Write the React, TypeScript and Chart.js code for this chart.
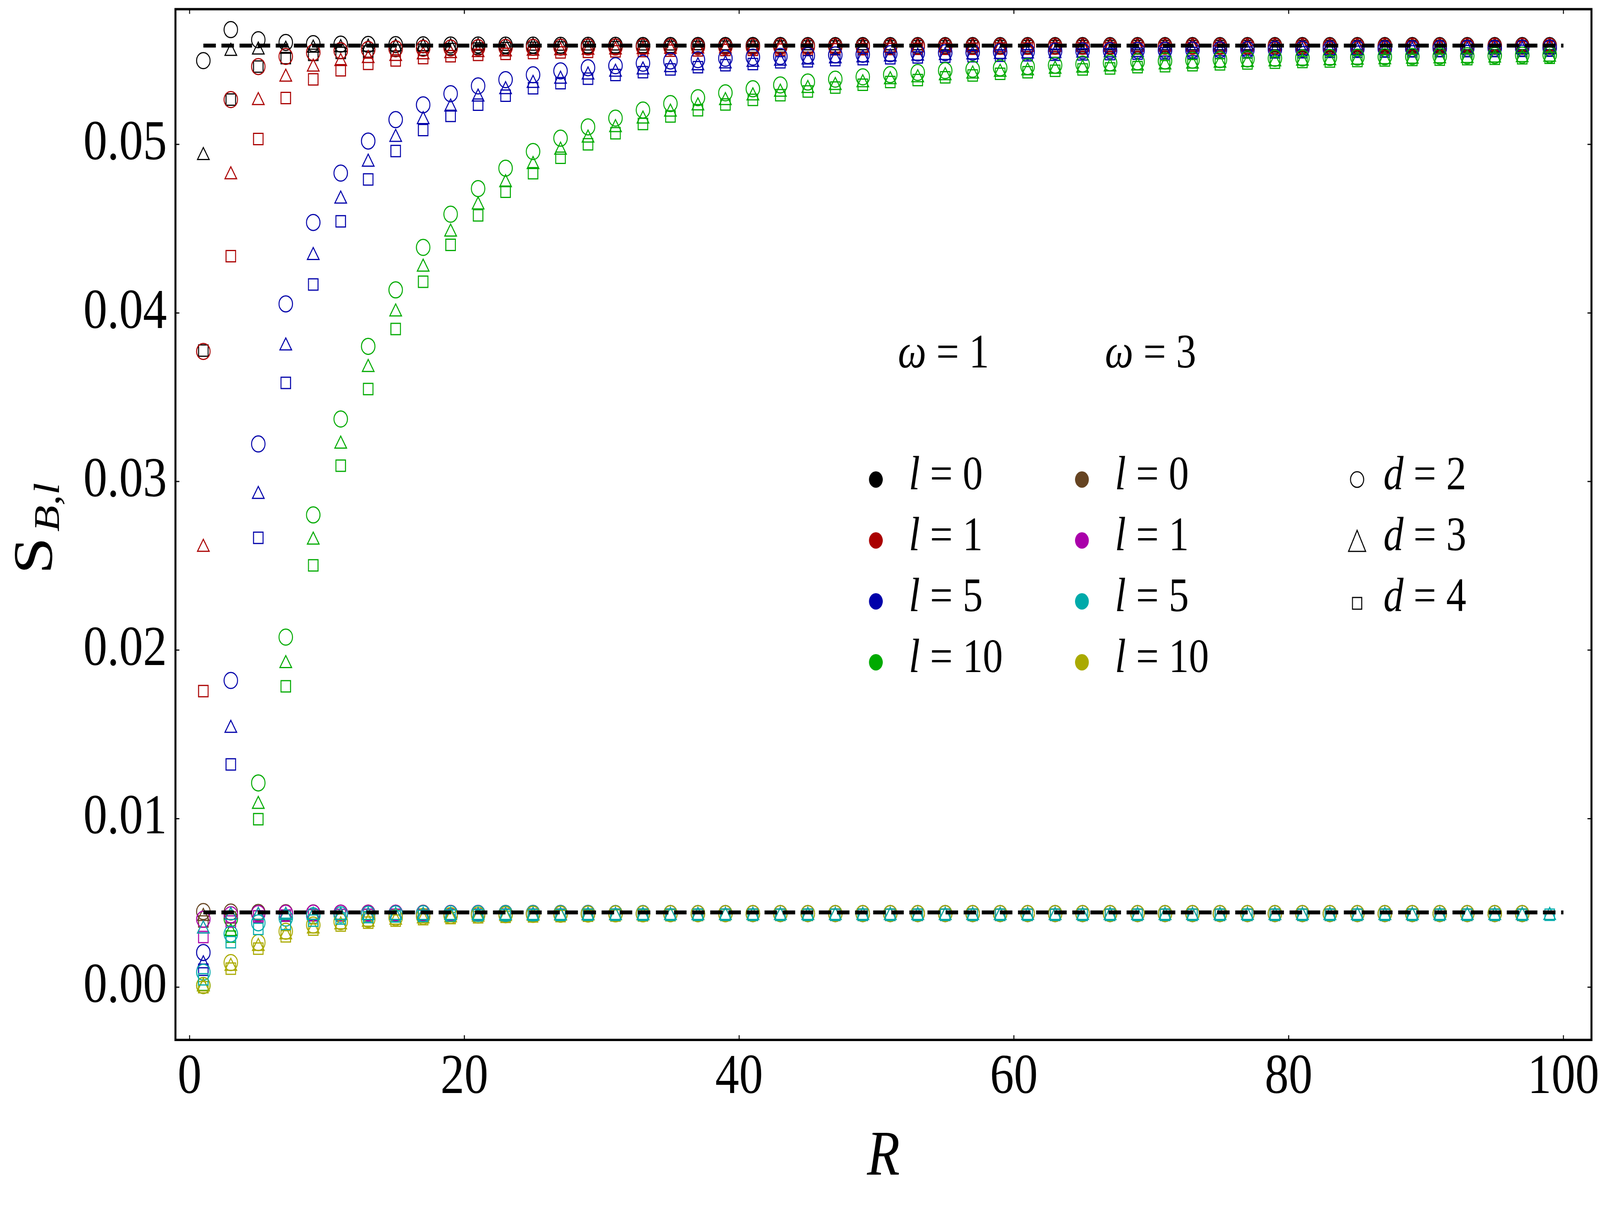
import React, { useEffect, useRef } from 'react';
import { Chart, registerables } from 'chart.js';

Chart.register(...registerables);

const W = 4861;
const H = 3096;
const FONT = "'Liberation Serif', 'Times New Roman', serif";

// ---------- data ----------
const R_VALUES = [
  1, 3, 5, 7, 9, 11, 13, 15, 17, 19,
  21, 23, 25, 27, 29, 31, 33, 35, 37, 39,
  41, 43, 45, 47, 49, 51, 53, 55, 57, 59,
  61, 63, 65, 67, 69, 71, 73, 75, 77, 79,
  81, 83, 85, 87, 89, 91, 93, 95, 97, 99,
];

const X_TICKS = [0, 20, 40, 60, 80, 100];
const Y_TICKS = [0, 0.01, 0.02, 0.03, 0.04, 0.05];

const DASH_R = [1, 100];
const LIMIT_OMEGA1 = 0.05586;
const LIMIT_OMEGA3 = 0.00444;

// omega = 1
const W1_L0_D2 = [
  0.05497, 0.05681, 0.05621, 0.05605, 0.05598, 0.05595, 0.05593, 0.05592, 0.05591, 0.0559,
  0.0559, 0.05589, 0.05589, 0.05588, 0.05588, 0.05588, 0.05587, 0.05587, 0.05587, 0.05587,
  0.05587, 0.05587, 0.05586, 0.05586, 0.05586, 0.05586, 0.05586, 0.05586, 0.05586, 0.05586,
  0.05586, 0.05586, 0.05586, 0.05586, 0.05586, 0.05586, 0.05586, 0.05586, 0.05586, 0.05586,
  0.05586, 0.05586, 0.05586, 0.05586, 0.05586, 0.05586, 0.05586, 0.05586, 0.05586, 0.05586,
];
const W1_L0_D3 = [
  0.04934, 0.05552, 0.0556, 0.05565, 0.05571, 0.05574, 0.05577, 0.05579, 0.0558, 0.05581,
  0.05582, 0.05582, 0.05583, 0.05583, 0.05584, 0.05584, 0.05584, 0.05584, 0.05585, 0.05585,
  0.05585, 0.05585, 0.05585, 0.05585, 0.05585, 0.05585, 0.05585, 0.05585, 0.05585, 0.05585,
  0.05585, 0.05585, 0.05585, 0.05585, 0.05585, 0.05585, 0.05585, 0.05585, 0.05585, 0.05585,
  0.05585, 0.05585, 0.05585, 0.05585, 0.05585, 0.05585, 0.05585, 0.05585, 0.05585, 0.05585,
];
const W1_L0_D4 = [
  0.03777, 0.05266, 0.05462, 0.05512, 0.05531, 0.05543, 0.05551, 0.05557, 0.05562, 0.05566,
  0.05569, 0.05571, 0.05573, 0.05575, 0.05576, 0.05577, 0.05578, 0.05579, 0.05579, 0.0558,
  0.0558, 0.05581, 0.05581, 0.05581, 0.05582, 0.05582, 0.05582, 0.05582, 0.05583, 0.05583,
  0.05583, 0.05583, 0.05583, 0.05583, 0.05583, 0.05583, 0.05583, 0.05583, 0.05583, 0.05583,
  0.05583, 0.05583, 0.05583, 0.05583, 0.05583, 0.05583, 0.05583, 0.05583, 0.05583, 0.05583,
];
const W1_L1_D2 = [
  0.03772, 0.05266, 0.05462, 0.05522, 0.05545, 0.05556, 0.05563, 0.05567, 0.0557, 0.05572,
  0.05574, 0.05575, 0.05576, 0.05577, 0.05578, 0.05578, 0.05579, 0.05579, 0.0558, 0.0558,
  0.0558, 0.05581, 0.05581, 0.05581, 0.05581, 0.05581, 0.05582, 0.05582, 0.05582, 0.05582,
  0.05582, 0.05582, 0.05582, 0.05582, 0.05582, 0.05582, 0.05582, 0.05582, 0.05582, 0.05582,
  0.05582, 0.05582, 0.05582, 0.05582, 0.05582, 0.05582, 0.05582, 0.05582, 0.05582, 0.05582,
];
const W1_L1_D3 = [
  0.0261, 0.0482, 0.0526, 0.05399, 0.05459, 0.05492, 0.0551, 0.05522, 0.05532, 0.05539,
  0.05545, 0.05549, 0.05553, 0.05556, 0.05559, 0.05561, 0.05563, 0.05565, 0.05566, 0.05567,
  0.05568, 0.05569, 0.0557, 0.05571, 0.05572, 0.05572, 0.05573, 0.05573, 0.05574, 0.05574,
  0.05575, 0.05575, 0.05576, 0.05576, 0.05576, 0.05577, 0.05577, 0.05577, 0.05578, 0.05578,
  0.05578, 0.05578, 0.05579, 0.05579, 0.05579, 0.05579, 0.05579, 0.0558, 0.0558, 0.0558,
];
const W1_L1_D4 = [
  0.01757, 0.04337, 0.05032, 0.05275, 0.05386, 0.0544, 0.05478, 0.05498, 0.05512, 0.05523,
  0.05531, 0.05537, 0.05542, 0.05546, 0.05549, 0.05552, 0.05554, 0.05556, 0.05558, 0.0556,
  0.05561, 0.05562, 0.05563, 0.05564, 0.05565, 0.05566, 0.05567, 0.05567, 0.05568, 0.05569,
  0.05569, 0.0557, 0.0557, 0.05571, 0.05571, 0.05572, 0.05572, 0.05572, 0.05573, 0.05573,
  0.05574, 0.05574, 0.05574, 0.05575, 0.05575, 0.05575, 0.05575, 0.05576, 0.05576, 0.05576,
];
const W1_L5_D2 = [
  0.00206, 0.0182, 0.03223, 0.04054, 0.04537, 0.0483, 0.0502, 0.05147, 0.05235, 0.05301,
  0.05347, 0.05384, 0.05413, 0.05436, 0.05455, 0.05467, 0.05482, 0.05495, 0.05503, 0.05511,
  0.05518, 0.05522, 0.05527, 0.05531, 0.05535, 0.05538, 0.05542, 0.05544, 0.05547, 0.05549,
  0.05551, 0.05553, 0.05555, 0.05556, 0.05558, 0.05559, 0.0556, 0.05562, 0.05563, 0.05564,
  0.05565, 0.05566, 0.05567, 0.05567, 0.05568, 0.05569, 0.0557, 0.0557, 0.05571, 0.05572,
];
const W1_L5_D3 = [
  0.00139, 0.01536, 0.02924, 0.03805, 0.04341, 0.04676, 0.04895, 0.05042, 0.05147, 0.05222,
  0.05281, 0.05325, 0.05362, 0.05387, 0.05412, 0.05429, 0.05442, 0.05456, 0.05467, 0.05478,
  0.05487, 0.05494, 0.05501, 0.05508, 0.05514, 0.05519, 0.05524, 0.05528, 0.05531, 0.05534,
  0.05537, 0.0554, 0.05542, 0.05544, 0.05546, 0.05548, 0.0555, 0.05551, 0.05553, 0.05554,
  0.05555, 0.05556, 0.05557, 0.05558, 0.05559, 0.0556, 0.0556, 0.05561, 0.05562, 0.05562,
];
const W1_L5_D4 = [
  0.00104, 0.01322, 0.02666, 0.03585, 0.04169, 0.04544, 0.04792, 0.04961, 0.05085, 0.05169,
  0.05236, 0.05289, 0.05333, 0.05363, 0.0539, 0.05412, 0.05429, 0.05445, 0.05458, 0.0547,
  0.05477, 0.05487, 0.05493, 0.055, 0.05506, 0.05511, 0.05516, 0.0552, 0.05523, 0.05526,
  0.05529, 0.05532, 0.05534, 0.05536, 0.05538, 0.0554, 0.05542, 0.05543, 0.05545, 0.05546,
  0.05547, 0.05549, 0.0555, 0.05551, 0.05552, 0.05553, 0.05553, 0.05554, 0.05555, 0.05556,
];
const W1_L10_D2 = [
  0.0001, 0.00407, 0.01212, 0.02077, 0.02802, 0.03371, 0.03802, 0.04137, 0.04389, 0.04586,
  0.04738, 0.04859, 0.04958, 0.05037, 0.05104, 0.05156, 0.05204, 0.05242, 0.05277, 0.05306,
  0.0533, 0.05353, 0.0537, 0.05387, 0.05401, 0.05414, 0.05427, 0.05438, 0.05446, 0.05454,
  0.05462, 0.0547, 0.05477, 0.05484, 0.0549, 0.05495, 0.055, 0.05503, 0.05507, 0.05511,
  0.05513, 0.05516, 0.05518, 0.0552, 0.05522, 0.05524, 0.05526, 0.05528, 0.0553, 0.05532,
];
const W1_L10_D3 = [
  0.00005, 0.0033, 0.01085, 0.0192, 0.02653, 0.03222, 0.03677, 0.04006, 0.04272, 0.0448,
  0.04641, 0.04773, 0.04881, 0.04966, 0.05038, 0.051, 0.05151, 0.05192, 0.05229, 0.0526,
  0.05288, 0.0531, 0.05332, 0.0535, 0.05366, 0.05384, 0.05396, 0.05408, 0.05418, 0.05428,
  0.05437, 0.05446, 0.05453, 0.0546, 0.05466, 0.05472, 0.05477, 0.05482, 0.05486, 0.0549,
  0.05494, 0.05497, 0.055, 0.05503, 0.05506, 0.05508, 0.0551, 0.05513, 0.05515, 0.05518,
];
const W1_L10_D4 = [
  0.0, 0.003, 0.00997, 0.01785, 0.02503, 0.03094, 0.03549, 0.03905, 0.04185, 0.04404,
  0.04579, 0.04719, 0.04829, 0.04921, 0.05001, 0.05066, 0.05121, 0.05166, 0.05203, 0.05237,
  0.05264, 0.05292, 0.05314, 0.05337, 0.05354, 0.0537, 0.05382, 0.05398, 0.05409, 0.05419,
  0.05428, 0.05437, 0.05445, 0.05451, 0.05458, 0.05464, 0.0547, 0.05475, 0.0548, 0.05485,
  0.05489, 0.05492, 0.05495, 0.05498, 0.05501, 0.05503, 0.05506, 0.05508, 0.05511, 0.05514,
];

// omega = 3
const W3_L0_D2 = [
  0.00449, 0.00446, 0.00444, 0.00442, 0.00441, 0.0044, 0.0044, 0.00439, 0.00439, 0.00438,
  0.00438, 0.00438, 0.00438, 0.00438, 0.00438, 0.00437, 0.00437, 0.00437, 0.00437, 0.00437,
  0.00437, 0.00437, 0.00437, 0.00437, 0.00437, 0.00437, 0.00437, 0.00437, 0.00437, 0.00437,
  0.00437, 0.00437, 0.00437, 0.00437, 0.00437, 0.00437, 0.00437, 0.00437, 0.00437, 0.00437,
  0.00437, 0.00437, 0.00437, 0.00437, 0.00437, 0.00437, 0.00437, 0.00437, 0.00437, null,
];
const W3_L0_D3 = [
  0.0042, 0.00426, 0.00427, 0.00427, 0.00427, 0.00427, 0.00426, 0.00426, 0.00426, 0.00426,
  0.00426, 0.00426, 0.00426, 0.00426, 0.00426, 0.00426, 0.00426, 0.00426, 0.00426, 0.00426,
  0.00426, 0.00426, 0.00426, 0.00426, 0.00426, 0.00426, 0.00426, 0.00426, 0.00426, 0.00426,
  0.00426, 0.00426, 0.00426, 0.00426, 0.00426, 0.00426, 0.00426, 0.00426, 0.00426, 0.00426,
  0.00426, 0.00426, 0.00426, 0.00426, 0.00426, 0.00426, 0.00426, 0.00426, 0.00426, null,
];
const W3_L0_D4 = [
  0.0039, 0.00414, 0.0042, 0.00424, 0.00427, 0.00428, 0.00429, 0.00429, 0.0043, 0.0043,
  0.0043, 0.0043, 0.0043, 0.0043, 0.0043, 0.0043, 0.0043, 0.0043, 0.0043, 0.0043,
  0.0043, 0.0043, 0.0043, 0.0043, 0.0043, 0.0043, 0.0043, 0.0043, 0.0043, 0.0043,
  0.0043, 0.0043, 0.0043, 0.0043, 0.0043, 0.0043, 0.0043, 0.0043, 0.0043, 0.0043,
  0.0043, 0.0043, 0.0043, 0.0043, 0.0043, 0.0043, 0.0043, 0.0043, 0.0043, null,
];
const W3_L1_D2 = [
  0.00403, 0.0043, 0.00437, 0.00439, 0.0044, 0.0044, 0.00439, 0.00439, 0.00438, 0.00438,
  0.00438, 0.00437, 0.00437, 0.00437, 0.00437, 0.00437, 0.00437, 0.00437, 0.00437, 0.00437,
  0.00437, 0.00437, 0.00437, 0.00437, 0.00437, 0.00437, 0.00437, 0.00437, 0.00437, 0.00437,
  0.00437, 0.00437, 0.00437, 0.00437, 0.00437, 0.00437, 0.00437, 0.00437, 0.00437, 0.00437,
  0.00437, 0.00437, 0.00437, 0.00437, 0.00437, 0.00437, 0.00437, 0.00437, 0.00437, null,
];
const W3_L1_D3 = [
  0.00346, 0.00426, 0.00426, 0.00426, 0.00426, 0.00426, 0.00426, 0.00426, 0.00426, 0.00426,
  0.00426, 0.00426, 0.00426, 0.00426, 0.00426, 0.00426, 0.00426, 0.00426, 0.00426, 0.00426,
  0.00426, 0.00426, 0.00426, 0.00426, 0.00426, 0.00426, 0.00426, 0.00426, 0.00426, 0.00426,
  0.00426, 0.00426, 0.00426, 0.00426, 0.00426, 0.00426, 0.00426, 0.00426, 0.00426, 0.00426,
  0.00426, 0.00426, 0.00426, 0.00426, 0.00426, 0.00426, 0.00426, 0.00426, 0.00426, null,
];
const W3_L1_D4 = [
  0.00298, 0.0039, 0.0042, 0.00425, 0.00428, 0.00429, 0.0043, 0.0043, 0.0043, 0.0043,
  0.0043, 0.0043, 0.0043, 0.0043, 0.0043, 0.0043, 0.0043, 0.0043, 0.0043, 0.0043,
  0.0043, 0.0043, 0.0043, 0.0043, 0.0043, 0.0043, 0.0043, 0.0043, 0.0043, 0.0043,
  0.0043, 0.0043, 0.0043, 0.0043, 0.0043, 0.0043, 0.0043, 0.0043, 0.0043, 0.0043,
  0.0043, 0.0043, 0.0043, 0.0043, 0.0043, 0.0043, 0.0043, 0.0043, 0.0043, null,
];
const W3_L5_D2 = [
  0.00089, 0.00316, 0.00382, 0.0041, 0.00424, 0.0043, 0.00433, 0.00435, 0.00436, 0.00436,
  0.00437, 0.00437, 0.00437, 0.00437, 0.00437, 0.00437, 0.00437, 0.00437, 0.00437, 0.00437,
  0.00437, 0.00437, 0.00437, 0.00437, 0.00437, 0.00437, 0.00437, 0.00437, 0.00437, 0.00437,
  0.00437, 0.00437, 0.00437, 0.00437, 0.00437, 0.00437, 0.00437, 0.00437, 0.00437, 0.00437,
  0.00437, 0.00437, 0.00437, 0.00437, 0.00437, 0.00437, 0.00437, 0.00437, 0.00437, null,
];
const W3_L5_D3 = [
  0.00346, 0.00426, 0.00426, 0.00426, 0.00426, 0.00426, 0.00426, 0.00426, 0.00426, 0.00426,
  0.00426, 0.00426, 0.00426, 0.00426, 0.00426, 0.00426, 0.00426, 0.00426, 0.00426, 0.00426,
  0.00426, 0.00426, 0.00426, 0.00426, 0.00426, 0.00426, 0.00426, 0.00426, 0.00426, 0.00426,
  0.00426, 0.00426, 0.00426, 0.00426, 0.00426, 0.00426, 0.00426, 0.00426, 0.00426, 0.00426,
  0.00426, 0.00426, 0.00426, 0.00426, 0.00426, 0.00426, 0.00426, 0.00426, 0.00426, 0.00426,
];
const W3_L5_D4 = [
  0.00047, 0.00267, 0.00346, 0.00376, 0.00395, 0.00408, 0.00416, 0.0042, 0.00423, 0.00425,
  0.00427, 0.00428, 0.00429, 0.00429, 0.0043, 0.0043, 0.0043, 0.0043, 0.0043, 0.0043,
  0.0043, 0.0043, 0.0043, 0.0043, 0.0043, 0.0043, 0.0043, 0.0043, 0.0043, 0.0043,
  0.0043, 0.0043, 0.0043, 0.0043, 0.0043, 0.0043, 0.0043, 0.0043, 0.0043, 0.0043,
  0.0043, 0.0043, 0.0043, 0.0043, 0.0043, 0.0043, 0.0043, 0.0043, 0.0043, 0.0043,
];
const W3_L10_D2 = [
  0.0001, 0.00146, 0.00265, 0.00332, 0.00369, 0.00389, 0.00403, 0.00413, 0.0042, 0.00425,
  0.00428, 0.0043, 0.00432, 0.00433, 0.00434, 0.00435, 0.00435, 0.00436, 0.00436, 0.00436,
  0.00437, 0.00437, 0.00437, 0.00437, 0.00437, 0.00437, 0.00437, 0.00437, 0.00437, 0.00437,
  0.00437, 0.00437, 0.00437, 0.00437, 0.00437, 0.00437, 0.00437, 0.00437, 0.00437, 0.00437,
  0.00437, 0.00437, 0.00437, 0.00437, 0.00437, 0.00437, 0.00437, 0.00437, 0.00437, null,
];
const W3_L10_D3 = [
  0.00002, 0.00124, 0.00242, 0.00311, 0.00346, 0.0037, 0.00386, 0.00398, 0.00406, 0.00412,
  0.00416, 0.00419, 0.00421, 0.00422, 0.00423, 0.00424, 0.00424, 0.00425, 0.00425, 0.00425,
  0.00426, 0.00426, 0.00426, 0.00426, 0.00426, 0.00426, 0.00426, 0.00426, 0.00426, 0.00426,
  0.00426, 0.00426, 0.00426, 0.00426, 0.00426, 0.00426, 0.00426, 0.00426, 0.00426, 0.00426,
  0.00426, 0.00426, 0.00426, 0.00426, 0.00426, 0.00426, 0.00426, 0.00426, 0.00426, null,
];
const W3_L10_D4 = [
  0.0, 0.0011, 0.00229, 0.00302, 0.00342, 0.00366, 0.00383, 0.00395, 0.00404, 0.0041,
  0.00415, 0.00418, 0.0042, 0.00422, 0.00424, 0.00425, 0.00426, 0.00427, 0.00428, 0.00428,
  0.00429, 0.00429, 0.00429, 0.0043, 0.0043, 0.0043, 0.0043, 0.0043, 0.0043, 0.0043,
  0.0043, 0.0043, 0.0043, 0.0043, 0.0043, 0.0043, 0.0043, 0.0043, 0.0043, 0.0043,
  0.0043, 0.0043, 0.0043, 0.0043, 0.0043, 0.0043, 0.0043, 0.0043, 0.0043, null,
];

// ---------- styles ----------
const BLACK = '#000000';
const RED = '#aa0000';
const BLUE = '#0000aa';
const GREEN = '#00aa00';
const BROWN = '#664422';
const MAGENTA = '#aa00aa';
const TEAL = '#00aaaa';
const OLIVE = '#aaaa00';

const D_STYLE: Record<number, string> = { 2: 'circle', 3: 'triangle', 4: 'rect' };

// drawn in this sequence (first = bottom)
const SERIES = [
  { label: 'ω=1, l=0, d=2', color: BLACK, d: 2, values: W1_L0_D2 },
  { label: 'ω=1, l=0, d=3', color: BLACK, d: 3, values: W1_L0_D3 },
  { label: 'ω=1, l=0, d=4', color: BLACK, d: 4, values: W1_L0_D4 },
  { label: 'ω=1, l=1, d=2', color: RED, d: 2, values: W1_L1_D2 },
  { label: 'ω=1, l=1, d=3', color: RED, d: 3, values: W1_L1_D3 },
  { label: 'ω=1, l=1, d=4', color: RED, d: 4, values: W1_L1_D4 },
  { label: 'ω=1, l=5, d=2', color: BLUE, d: 2, values: W1_L5_D2 },
  { label: 'ω=1, l=5, d=3', color: BLUE, d: 3, values: W1_L5_D3 },
  { label: 'ω=1, l=5, d=4', color: BLUE, d: 4, values: W1_L5_D4 },
  { label: 'ω=1, l=10, d=2', color: GREEN, d: 2, values: W1_L10_D2 },
  { label: 'ω=1, l=10, d=3', color: GREEN, d: 3, values: W1_L10_D3 },
  { label: 'ω=1, l=10, d=4', color: GREEN, d: 4, values: W1_L10_D4 },
  { label: 'ω=3, l=0, d=2', color: BROWN, d: 2, values: W3_L0_D2 },
  { label: 'ω=3, l=0, d=3', color: BROWN, d: 3, values: W3_L0_D3 },
  { label: 'ω=3, l=0, d=4', color: BROWN, d: 4, values: W3_L0_D4 },
  { label: 'ω=3, l=1, d=2', color: MAGENTA, d: 2, values: W3_L1_D2 },
  { label: 'ω=3, l=1, d=3', color: MAGENTA, d: 3, values: W3_L1_D3 },
  { label: 'ω=3, l=1, d=4', color: MAGENTA, d: 4, values: W3_L1_D4 },
  { label: 'ω=3, l=5, d=2', color: TEAL, d: 2, values: W3_L5_D2 },
  { label: 'ω=3, l=10, d=2', color: OLIVE, d: 2, values: W3_L10_D2 },
  { label: 'ω=3, l=10, d=3', color: OLIVE, d: 3, values: W3_L10_D3 },
  { label: 'ω=3, l=10, d=4', color: OLIVE, d: 4, values: W3_L10_D4 },
  { label: 'ω=3, l=5, d=3', color: TEAL, d: 3, values: W3_L5_D3 },
  { label: 'ω=3, l=5, d=4', color: TEAL, d: 4, values: W3_L5_D4 },
];

// legend content
const LEGEND_HEADERS = ['1', '3'];
const LEGEND_L = ['0', '1', '5', '10'];
const LEGEND_COL1 = [BLACK, RED, BLUE, GREEN];
const LEGEND_COL2 = [BROWN, MAGENTA, TEAL, OLIVE];
const LEGEND_D = ['2', '3', '4'];

type Run = { text: string; italic?: boolean };

function drawRuns(ctx: CanvasRenderingContext2D, runs: Run[], x: number, y: number, size: number) {
  let cx = x;
  for (const r of runs) {
    ctx.font = `${r.italic ? 'italic ' : ''}${size}px ${FONT}`;
    ctx.fillText(r.text, cx, y);
    cx += ctx.measureText(r.text).width;
  }
}

const framePlugin = {
  id: 'frameTicks',
  afterDraw(chart: any) {
    const { ctx, chartArea: a, scales } = chart;
    ctx.save();
    ctx.strokeStyle = '#000';
    ctx.lineWidth = 6;
    ctx.strokeRect(a.left, a.top, a.right - a.left, a.bottom - a.top);
    ctx.lineWidth = 3;
    const len = 12;
    ctx.beginPath();
    for (const v of X_TICKS) {
      const px = scales.x.getPixelForValue(v);
      ctx.moveTo(px, a.bottom);
      ctx.lineTo(px, a.bottom - len);
      ctx.moveTo(px, a.top);
      ctx.lineTo(px, a.top + len);
    }
    for (const v of Y_TICKS) {
      const py = scales.y.getPixelForValue(v);
      ctx.moveTo(a.left, py);
      ctx.lineTo(a.left + len, py);
      ctx.moveTo(a.right, py);
      ctx.lineTo(a.right - len, py);
    }
    ctx.stroke();
    ctx.restore();
  },
};

const yTitlePlugin = {
  id: 'yTitle',
  afterDraw(chart: any) {
    const { ctx, chartArea: a } = chart;
    const cy = (a.top + a.bottom) / 2 + 10;
    ctx.save();
    ctx.fillStyle = '#000';
    ctx.textAlign = 'left';
    ctx.textBaseline = 'alphabetic';
    const sFont = `170px ${FONT}`;
    const subFont = `italic 110px ${FONT}`;
    ctx.font = sFont;
    const sW = ctx.measureText('S').width;
    ctx.font = subFont;
    const subW = ctx.measureText('B,l').width;
    const gap = 14;
    const total = sW + gap + subW;
    ctx.translate(157, cy);
    ctx.rotate(-Math.PI / 2);
    const x0 = -total / 2;
    ctx.font = sFont;
    ctx.fillText('S', x0, 0);
    ctx.font = subFont;
    ctx.fillText('B,l', x0 + sW + gap, 22);
    ctx.restore();
  },
};

const legendPlugin = {
  id: 'customLegend',
  afterDraw(chart: any) {
    const ctx: CanvasRenderingContext2D = chart.ctx;
    const size = 122;
    ctx.save();
    ctx.fillStyle = '#000';
    ctx.textAlign = 'left';
    ctx.textBaseline = 'alphabetic';
    const headerX = [2728, 3357];
    LEGEND_HEADERS.forEach((h, i) => {
      drawRuns(ctx, [{ text: 'ω', italic: true }, { text: ' = ' + h }], headerX[i], 941, size);
    });
    const rowY = [1228, 1384, 1540, 1696];
    const cols = [
      { dotX: 2661, textX: 2761, colors: LEGEND_COL1 },
      { dotX: 3287, textX: 3387, colors: LEGEND_COL2 },
    ];
    cols.forEach((c) => {
      LEGEND_L.forEach((l, i) => {
        ctx.fillStyle = c.colors[i];
        ctx.beginPath();
        ctx.arc(c.dotX, rowY[i], 21, 0, Math.PI * 2);
        ctx.fill();
        ctx.fillStyle = '#000';
        drawRuns(ctx, [{ text: 'l', italic: true }, { text: ' = ' + l }], c.textX, rowY[i] + 25, size);
      });
    });
    const mx = 4123;
    ctx.strokeStyle = '#000';
    ctx.lineWidth = 3;
    LEGEND_D.forEach((d, i) => {
      const y = rowY[i];
      ctx.beginPath();
      if (D_STYLE[Number(d)] === 'circle') {
        ctx.arc(mx, y, 20, 0, Math.PI * 2);
      } else if (D_STYLE[Number(d)] === 'triangle') {
        ctx.moveTo(mx, y - 26);
        ctx.lineTo(mx + 26, y + 28);
        ctx.lineTo(mx - 26, y + 28);
        ctx.closePath();
      } else {
        ctx.rect(mx - 14, y - 10, 28, 30);
      }
      ctx.stroke();
      ctx.fillStyle = '#000';
      drawRuns(ctx, [{ text: 'd', italic: true }, { text: ' = ' + d }], 4203, y + 25, size);
    });
    ctx.restore();
  },
};

export default function App() {
  const canvasRef = useRef<HTMLCanvasElement | null>(null);

  useEffect(() => {
    if (!canvasRef.current) return;
    const n = SERIES.length;
    const datasets: any[] = SERIES.map((s, idx) => ({
      label: s.label,
      data: R_VALUES.map((r, i) => ({ x: r, y: s.values[i] })).filter((p) => p.y !== null),
      pointStyle: D_STYLE[s.d],
      pointRadius: 20.5,
      pointHoverRadius: 20.5,
      pointBorderWidth: 3,
      borderColor: s.color,
      pointBorderColor: s.color,
      backgroundColor: 'rgba(0,0,0,0)',
      pointBackgroundColor: 'rgba(0,0,0,0)',
      showLine: false,
      order: n + 2 - idx,
    }));
    [LIMIT_OMEGA1, LIMIT_OMEGA3].forEach((lim, k) => {
      datasets.push({
        label: k === 0 ? 'limit ω=1' : 'limit ω=3',
        data: DASH_R.map((r) => ({ x: r, y: lim })),
        showLine: true,
        borderColor: '#000',
        borderWidth: 10,
        borderDash: [38, 17],
        borderCapStyle: 'butt',
        pointRadius: 0,
        fill: false,
        order: 0,
      });
    });

    const chart = new Chart(canvasRef.current, {
      type: 'scatter',
      data: { datasets },
      plugins: [framePlugin, yTitlePlugin, legendPlugin],
      options: {
        responsive: false,
        animation: false,
        devicePixelRatio: 1,
        layout: { padding: { left: 0, top: 3, right: 26, bottom: 0 } },
        plugins: {
          legend: { display: false },
          tooltip: { enabled: false },
          title: { display: false },
        },
        scales: {
          x: {
            type: 'linear',
            min: -1.03,
            max: 102.04,
            grid: { display: false, drawTicks: false },
            border: { display: false },
            afterBuildTicks: (s: any) => {
              s.ticks = X_TICKS.map((v) => ({ value: v }));
            },
            afterFit: (s: any) => {
              s.height = 433;
              s.paddingLeft = 0;
              s.paddingRight = 0;
              s.paddingTop = 0;
              s.paddingBottom = 0;
            },
            ticks: {
              autoSkip: false,
              maxRotation: 0,
              padding: 11,
              color: '#000',
              font: { family: FONT, size: 145 },
              callback: (v: any) => String(v),
            },
            title: {
              display: true,
              text: 'R',
              color: '#000',
              font: { family: FONT, size: 163, style: 'italic' },
              padding: { top: 0, bottom: 33 },
            },
          },
          y: {
            type: 'linear',
            min: -0.003126,
            max: 0.058023,
            grid: { display: false, drawTicks: false },
            border: { display: false },
            afterBuildTicks: (s: any) => {
              s.ticks = Y_TICKS.map((v) => ({ value: v }));
            },
            afterFit: (s: any) => {
              s.width = 533;
              s.paddingLeft = 0;
              s.paddingRight = 0;
              s.paddingTop = 0;
              s.paddingBottom = 0;
            },
            ticks: {
              padding: 26,
              color: '#000',
              font: { family: FONT, size: 145 },
              callback: (v: any) => Number(v).toFixed(2),
            },
          },
        },
      } as any,
    });
    return () => chart.destroy();
  }, []);

  return (
    <div style={{ position: 'fixed', left: 0, top: 0, width: '100vw', height: '100vh', background: '#fff', overflow: 'hidden' }}>
      <canvas ref={canvasRef} width={W} height={H} style={{ width: '100vw', height: '100vh', display: 'block' }} />
    </div>
  );
}
